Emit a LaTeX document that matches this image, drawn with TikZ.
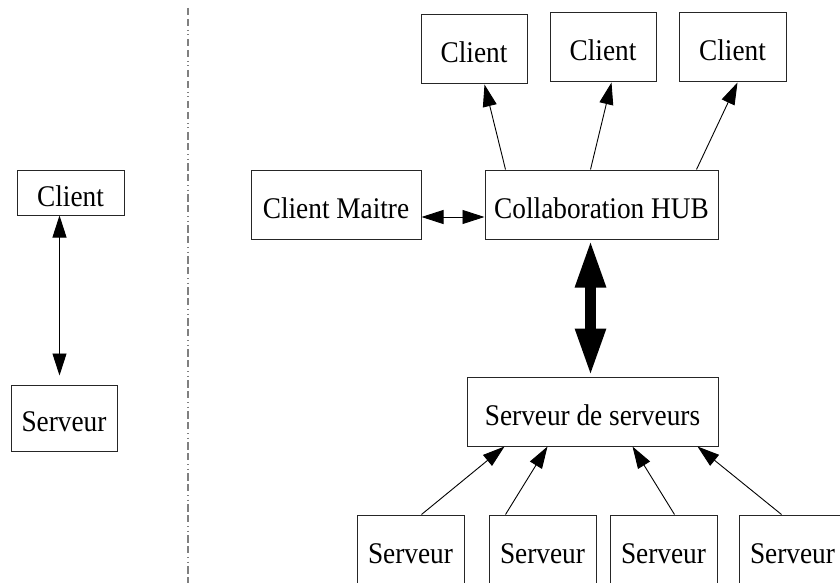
\documentclass[tikz,border=0pt]{standalone}
\usepackage{fontspec}
\setmainfont{Liberation Serif}[FakeStretch=0.91]
\usetikzlibrary{arrows.meta,calc}

\tikzset{
  box/.style={draw=black!85, line width=1pt, fill=white, inner sep=0pt,
    text height=27pt, text depth=0pt, align=center,
    font=\fontsize{30pt}{36pt}\selectfont},
  link/.style={line width=0.9pt, {Triangle[length=22pt,width=14pt]}-{Triangle[length=22pt,width=14pt]}},
  flow/.style={line width=0.9pt, -{Triangle[length=22pt,width=14pt]}},
  bigflow/.style={line width=11pt, {Triangle[length=48pt,width=28pt]}-{Triangle[length=48pt,width=28pt]}},
  divider/.style={draw=black!50, line width=1.3pt,
    dash pattern=on 7.5pt off 3.5pt on 7pt off 4pt on 1pt off 3.5pt on 1pt off 3.5pt}
}

\begin{document}
\begin{tikzpicture}[x=1pt,y=-1pt]
\useasboundingbox (0,0) rectangle (840,583);
\clip (0,0) rectangle (840,583);

% simple client/server model
\node[box, minimum width=107pt, minimum height=45pt] (lc) at (70.5,192.5) {Client};
\node[box, minimum width=106pt, minimum height=66pt] (ls) at (64,418) {Serveur};
\draw[link, shorten >=9pt] ($(lc.south west)+(43,0)$) -- ($(ls.north west)+(49,0)$);

% separator
\coordinate (sepTop) at (188,8);
\coordinate (sepBot) at (188,583);
\draw[divider] (sepTop) -- (sepBot);

% collaboration model
\node[box, minimum width=106pt, minimum height=69pt] (c1) at (474,49.5) {Client};
\node[box, minimum width=106pt, minimum height=69pt] (c2) at (603,47.5) {Client};
\node[box, minimum width=107pt, minimum height=69pt] (c3) at (732.5,47.5) {Client};
\node[box, minimum width=170pt, minimum height=69pt] (cm) at (336,204.5) {Client Maitre};
\node[box, minimum width=233pt, minimum height=69pt] (hub) at (601.5,204.5) {Collaboration HUB};
\node[box, minimum width=251pt, minimum height=69pt] (sds) at (592.5,411.5) {Serveur de serveurs};
\node[box, minimum width=107pt, minimum height=69pt] (s1) at (410.5,549.5) {Serveur};
\node[box, minimum width=107pt, minimum height=69pt] (s2) at (542.5,549.5) {Serveur};
\node[box, minimum width=107pt, minimum height=69pt] (s3) at (663.5,549.5) {Serveur};
\node[box, minimum width=107pt, minimum height=69pt] (s4) at (792.5,549.5) {Serveur};

% hub to clients
\draw[flow] ($(hub.north west)+(21,0)$) -- ($(c1.south west)+(64,0)$);
\draw[flow] ($(hub.north west)+(106,0)$) -- ($(c2.south west)+(62,0)$);
\draw[flow] ($(hub.north west)+(212,0)$) -- ($(c3.south west)+(59,0)$);

% master client <-> hub
\draw[link] ($(cm.east)+(0,12.5)$) -- ($(hub.west)+(0,12.5)$);

% hub <-> server of servers
\draw[bigflow] ($(hub.south west)+(106,0)$) -- ($(sds.north west)+(124,0)$);

% servers to server of servers
\draw[flow] ($(s1.north west)+(65,0)$) -- ($(sds.south west)+(38,0)$);
\draw[flow] ($(s2.north west)+(17,0)$) -- ($(sds.south west)+(81,0)$);
\draw[flow] ($(s3.north west)+(65,0)$) -- ($(sds.south west)+(166,0)$);
\draw[flow] ($(s4.north west)+(43,0)$) -- ($(sds.south west)+(231,0)$);
\end{tikzpicture}
\end{document}
